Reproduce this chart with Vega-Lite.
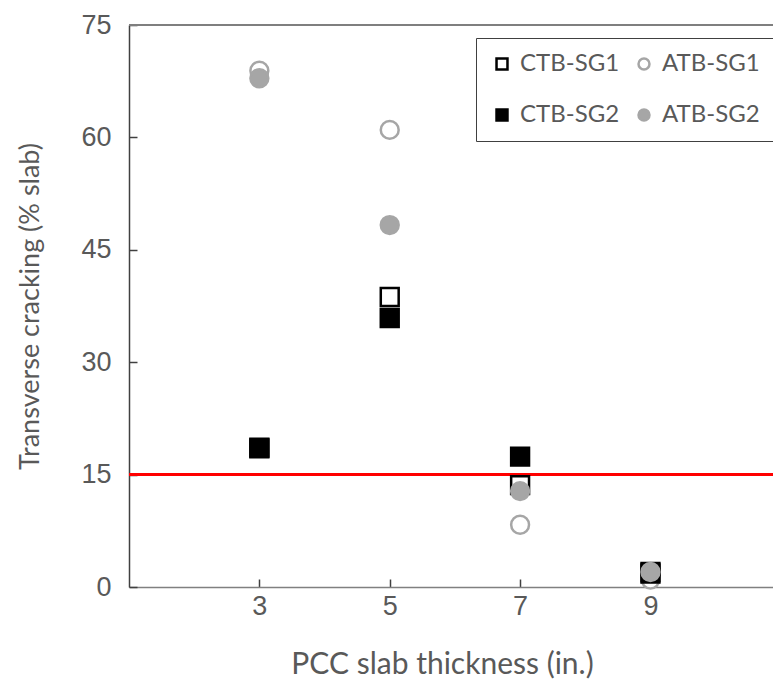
{
  "$schema": "https://vega.github.io/schema/vega-lite/v6.json",
  "autosize": "none",
  "padding": {"left": 129, "top": 25, "right": 0, "bottom": 95},
  "width": 644,
  "height": 562,
  "background": "white",
  "config": {"view": {"stroke": null}},
  "data": {"values": [
    {"series": "CTB-SG1", "thickness": 3, "cracking": 18.5},
    {"series": "CTB-SG1", "thickness": 5, "cracking": 38.7},
    {"series": "CTB-SG1", "thickness": 7, "cracking": 13.6},
    {"series": "CTB-SG1", "thickness": 9, "cracking": 2.0},
    {"series": "ATB-SG1", "thickness": 3, "cracking": 68.9},
    {"series": "ATB-SG1", "thickness": 5, "cracking": 61.0},
    {"series": "ATB-SG1", "thickness": 7, "cracking": 8.3},
    {"series": "ATB-SG1", "thickness": 9, "cracking": 1.0},
    {"series": "CTB-SG2", "thickness": 3, "cracking": 18.6},
    {"series": "CTB-SG2", "thickness": 5, "cracking": 35.9},
    {"series": "CTB-SG2", "thickness": 7, "cracking": 17.4},
    {"series": "CTB-SG2", "thickness": 9, "cracking": 1.8},
    {"series": "ATB-SG2", "thickness": 3, "cracking": 67.9},
    {"series": "ATB-SG2", "thickness": 5, "cracking": 48.3},
    {"series": "ATB-SG2", "thickness": 7, "cracking": 12.8},
    {"series": "ATB-SG2", "thickness": 9, "cracking": 2.0}
  ]},
  "layer": [
    {
      "mark": {"type": "rule", "color": "#7f7f7f", "strokeWidth": 1.5},
      "encoding": {"y": {"datum": 75, "type": "quantitative", "scale": {"domain": [0, 75], "nice": false}}}
    },
    {
      "mark": {"type": "rule", "color": "#ff0000", "strokeWidth": 2},
      "encoding": {"y": {"datum": 15, "type": "quantitative"}}
    },
    {
      "mark": {"type": "point", "size": 320, "strokeWidth": 2.5, "opacity": 1},
      "encoding": {
        "x": {
          "field": "thickness", "type": "quantitative",
          "scale": {"domain": [1, 10.88], "nice": false, "zero": false},
          "axis": {
            "values": [3, 5, 7, 9],
            "title": "PCC slab thickness (in.)",
            "titleFont": "Lato", "titleFontSize": 30, "titleFontWeight": "normal", "titleColor": "#595959",
            "titlePadding": 30, "titleX": 313,
            "labelFont": "Liberation Sans", "labelFontSize": 27, "labelColor": "#595959",
            "labelPadding": 14,
            "tickSize": -8, "tickColor": "#404040", "tickWidth": 1.5,
            "domainColor": "#808080", "domainWidth": 1.5,
            "grid": false
          }
        },
        "y": {
          "field": "cracking", "type": "quantitative",
          "scale": {"domain": [0, 75], "nice": false},
          "axis": {
            "values": [0, 15, 30, 45, 60, 75],
            "title": "Transverse cracking (% slab)",
            "titleFont": "Lato", "titleFontSize": 27, "titleFontWeight": "normal", "titleColor": "#595959",
            "titlePadding": 36,
            "labelFont": "Liberation Sans", "labelFontSize": 27, "labelColor": "#595959",
            "labelPadding": 26,
            "tickSize": -8, "tickColor": "#404040", "tickWidth": 1.5,
            "domainColor": "#404040", "domainWidth": 1.5,
            "grid": false
          }
        },
        "shape": {
          "field": "series", "type": "nominal",
          "scale": {"domain": ["CTB-SG1", "ATB-SG1", "CTB-SG2", "ATB-SG2"], "range": ["square", "circle", "square", "circle"]},
          "legend": {
            "title": null, "orient": "none", "legendX": 347, "legendY": 13, "columns": 2, "direction": "horizontal",
            "padding": 14, "rowPadding": 27, "columnPadding": 12,
            "strokeColor": "#404040", "fillColor": "white",
            "labelFont": "Lato", "labelFontSize": 24, "labelColor": "#595959", "labelOffset": 6,
            "symbolSize": 120, "symbolStrokeWidth": 2.5
          }
        },
        "fill": {
          "field": "series", "type": "nominal",
          "scale": {"domain": ["CTB-SG1", "ATB-SG1", "CTB-SG2", "ATB-SG2"], "range": ["#ffffff", "#ffffff", "#000000", "#a6a6a6"]},
          "legend": {
            "title": null, "orient": "none", "legendX": 347, "legendY": 13, "columns": 2, "direction": "horizontal",
            "padding": 14, "rowPadding": 27, "columnPadding": 12,
            "strokeColor": "#404040", "fillColor": "white",
            "labelFont": "Lato", "labelFontSize": 24, "labelColor": "#595959", "labelOffset": 6,
            "symbolSize": 120, "symbolStrokeWidth": 2.5
          }
        },
        "stroke": {
          "field": "series", "type": "nominal",
          "scale": {"domain": ["CTB-SG1", "ATB-SG1", "CTB-SG2", "ATB-SG2"], "range": ["#000000", "#a6a6a6", "#000000", "#a6a6a6"]},
          "legend": {
            "title": null, "orient": "none", "legendX": 347, "legendY": 13, "columns": 2, "direction": "horizontal",
            "padding": 14, "rowPadding": 27, "columnPadding": 12,
            "strokeColor": "#404040", "fillColor": "white",
            "labelFont": "Lato", "labelFontSize": 24, "labelColor": "#595959", "labelOffset": 6,
            "symbolSize": 120, "symbolStrokeWidth": 2.5
          }
        }
      }
    }
  ]
}
